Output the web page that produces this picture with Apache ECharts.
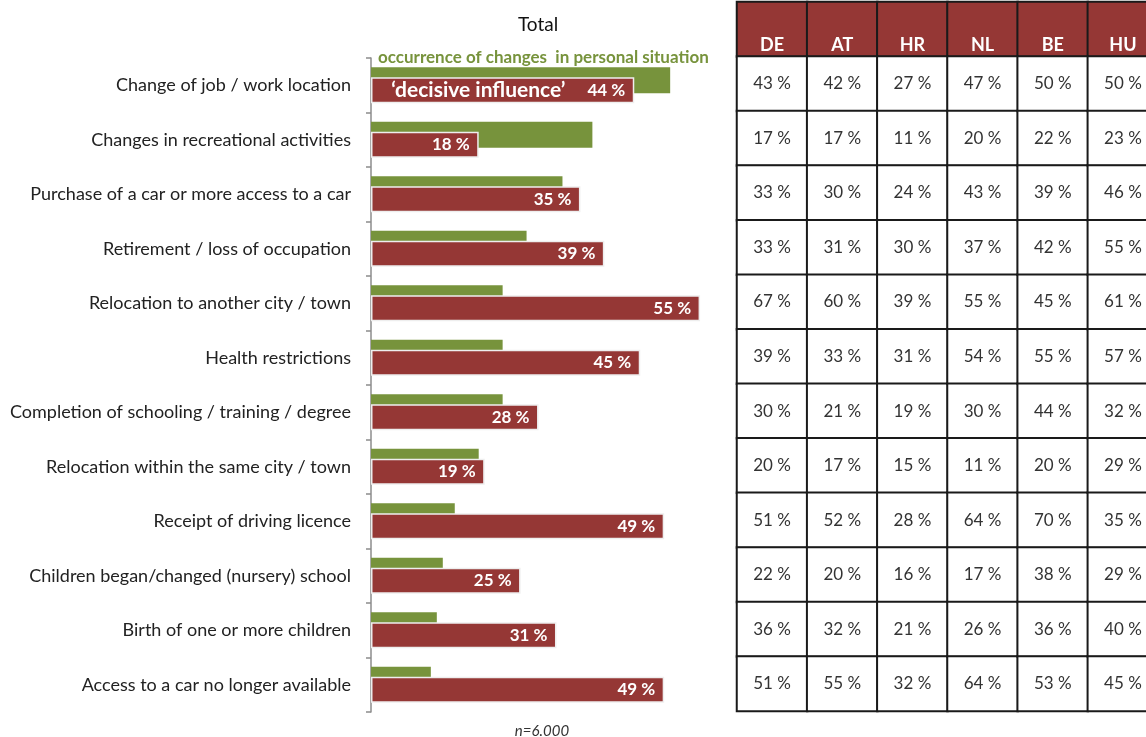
<!DOCTYPE html>
<html>
<head>
<meta charset="utf-8">
<script src="https://cdn.jsdelivr.net/npm/echarts@6/dist/echarts.min.js"></script>
<style>
  html, body { margin: 0; padding: 0; background: #fff; }
  #main { width: 1146px; height: 737px; }
</style>
</head>
<body>
<div id="main"></div>
<script>
// categories, top to bottom
var categories = [
    'Change of job / work location',
    'Changes in recreational activities',
    'Purchase of a car or more access to a car',
    'Retirement / loss of occupation',
    'Relocation to another city / town',
    'Health restrictions',
    'Completion of schooling / training / degree',
    'Relocation within the same city / town',
    'Receipt of driving licence',
    'Children began/changed (nursery) school',
    'Birth of one or more children',
    'Access to a car no longer available'
];
// occurrence of changes (green)
var occurrence = [50, 37, 32, 26, 22, 22, 22, 18, 14, 12, 11, 10];
// 'decisive influence' (red)
var decisive = [44, 18, 35, 39, 55, 45, 28, 19, 49, 25, 31, 49];

// table on the right
var countries = ['DE', 'AT', 'HR', 'NL', 'BE', 'HU'];
var DE = [43, 17, 33, 33, 67, 39, 30, 20, 51, 22, 36, 51];
var AT = [42, 17, 30, 31, 60, 33, 21, 17, 52, 20, 32, 55];
var HR = [27, 11, 24, 30, 39, 31, 19, 15, 28, 16, 21, 32];
var NL = [47, 20, 43, 37, 55, 54, 30, 11, 64, 17, 26, 64];
var BE = [50, 22, 39, 42, 45, 55, 44, 20, 70, 38, 36, 53];
var HU = [50, 23, 46, 55, 61, 57, 32, 29, 35, 29, 40, 45];
var tableCols = [DE, AT, HR, NL, BE, HU];

var FONT = 'Lato';
var RED = '#953735';
var GREEN = '#77933c';

var myChart = echarts.init(document.getElementById('main'));

// table cells -> heatmap data
var rowNames = ['head'].concat(categories);
var headData = [];
var bodyData = [];
for (var c = 0; c < countries.length; c++) {
    headData.push([c, 0, 0]);
    for (var r = 0; r < categories.length; r++) {
        bodyData.push([c, r + 1, tableCols[c][r]]);
    }
}

var greenData = occurrence.map(function (v, i) {
    if (i === 0) {
        return {
            value: v,
            label: {
                show: true,
                position: [7, -10],
                align: 'left',
                verticalAlign: 'middle',
                formatter: 'occurrence of changes  in personal situation',
                color: GREEN,
                fontFamily: FONT,
                fontWeight: 'bold',
                fontSize: 17
            }
        };
    }
    return v;
});

var redData = decisive.map(function (v, i) {
    if (i === 0) {
        return {
            value: v,
            label: {
                formatter: '{a|‘decisive influence’}{b|' + v + ' %}'
            }
        };
    }
    return v;
});

var option = {
    animation: false,
    title: [
        {
            text: 'Total',
            left: 533,
            top: 10,
            textAlign: 'center',
            textStyle: { fontFamily: FONT, fontSize: 19, fontWeight: 'normal', color: '#111' }
        },
        {
            text: 'n=6.000',
            left: 537,
            top: 719,
            textAlign: 'center',
            textStyle: { fontFamily: FONT, fontSize: 15, fontWeight: 'normal', fontStyle: 'italic', color: '#333' }
        }
    ],
    grid: [
        { left: 371, top: 58, width: 359, height: 654, outerBoundsMode: 'none' },
        { left: 737, top: 2, width: 421, height: 709, outerBoundsMode: 'none' }
    ],
    xAxis: [
        { type: 'value', gridIndex: 0, min: 0, max: 60, show: false },
        { type: 'category', gridIndex: 1, data: countries, show: false }
    ],
    yAxis: [
        {
            type: 'category',
            gridIndex: 0,
            inverse: true,
            data: categories,
            axisLine: { show: true, lineStyle: { color: '#8c8c8c', width: 1.5 } },
            axisTick: { show: true, length: 5, lineStyle: { color: '#8c8c8c', width: 1.5 } },
            axisLabel: { fontFamily: FONT, fontSize: 18, color: '#222', margin: 20, padding: [4, 0, 0, 0] }
        },
        { type: 'category', gridIndex: 1, inverse: true, data: rowNames, show: false }
    ],
    series: [
        {
            name: 'occurrence of changes in personal situation',
            type: 'bar',
            xAxisIndex: 0,
            yAxisIndex: 0,
            barWidth: 26,
            barGap: '-61.5%',
            itemStyle: { color: GREEN },
            data: greenData
        },
        {
            name: 'decisive influence',
            type: 'bar',
            xAxisIndex: 0,
            yAxisIndex: 0,
            barWidth: 26,
            itemStyle: { color: RED, borderColor: '#eeeeee', borderWidth: 1.5 },
            label: {
                show: true,
                position: 'insideRight',
                distance: 9,
                formatter: '{c} %',
                color: '#fff',
                fontFamily: FONT,
                fontWeight: 'bold',
                fontSize: 17,
                rich: {
                    a: { color: '#fff', fontFamily: FONT, fontWeight: 'bold', fontSize: 21 },
                    b: { color: '#fff', fontFamily: FONT, fontWeight: 'bold', fontSize: 17, padding: [0, 0, 0, 22] }
                }
            },
            data: redData
        },
        {
            name: 'header',
            type: 'heatmap',
            xAxisIndex: 1,
            yAxisIndex: 1,
            itemStyle: { color: RED, borderColor: '#1a1a1a', borderWidth: 2 },
            label: {
                show: true,
                position: 'insideBottom',
                distance: 4,
                formatter: function (p) { return countries[p.value[0]]; },
                color: '#fff',
                fontFamily: FONT,
                fontWeight: 'bold',
                fontSize: 18
            },
            data: headData
        },
        {
            name: 'countries',
            type: 'heatmap',
            xAxisIndex: 1,
            yAxisIndex: 1,
            itemStyle: { color: '#fff', borderColor: '#1a1a1a', borderWidth: 2 },
            label: {
                show: true,
                formatter: function (p) { return p.value[2] + ' %'; },
                color: '#333',
                fontFamily: FONT,
                fontSize: 17
            },
            data: bodyData
        }
    ]
};

myChart.setOption(option);
</script>
</body>
</html>
